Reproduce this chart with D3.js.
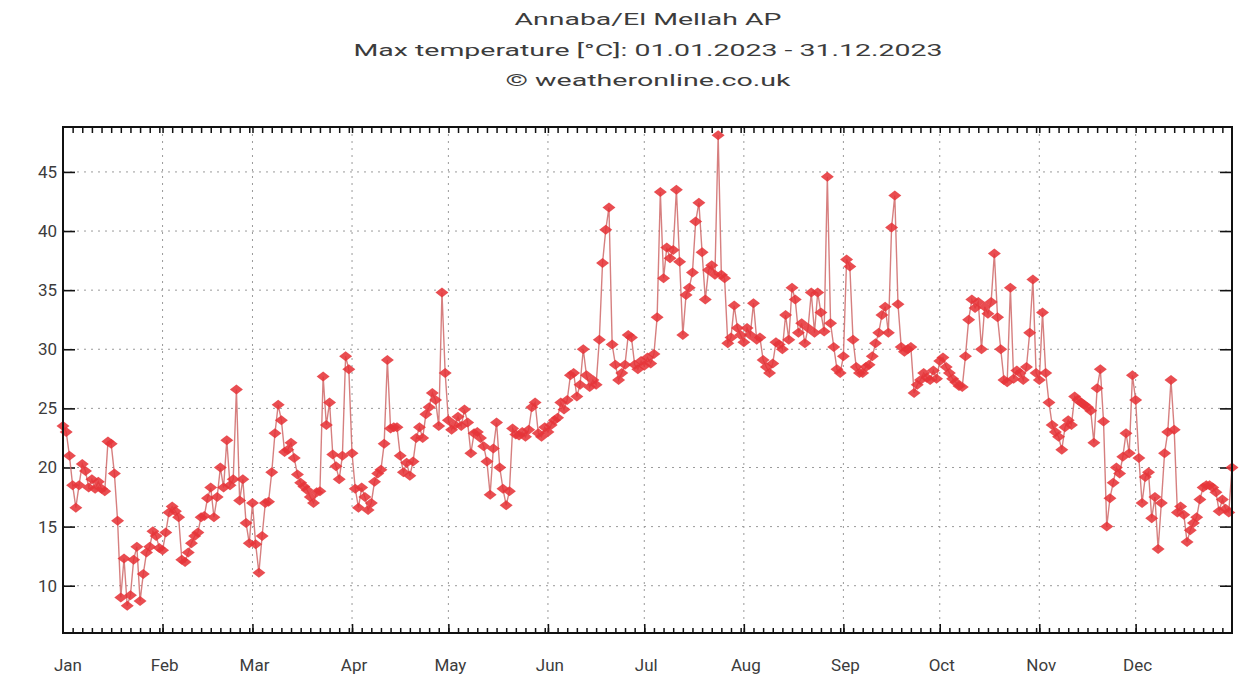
<!DOCTYPE html>
<html>
<head>
<meta charset="utf-8">
<script src="https://cdn.jsdelivr.net/npm/d3@7"></script>
<style>
  html, body { margin: 0; padding: 0; background: #fff; }
  svg { display: block; }
  text { font-family: Roboto, "DejaVu Sans", sans-serif; fill: #3c3c3c; }
</style>
</head>
<body>
<svg id="chart" width="1239" height="678"></svg>
<script>
// Daily maximum temperature (°C), Annaba/El Mellah AP, 2023 — one array per month
const jan = [23.5,23.0,21.0,18.5,16.6,18.5,20.3,19.7,18.3,19.0,18.2,18.8,18.2,18.0,22.2,22.0,19.5,15.5,9.0,12.3,8.3,9.2,12.2,13.3,8.7,11.0,12.8,13.3,14.6,14.2,13.2];
const feb = [13.0,14.5,16.2,16.7,16.3,15.8,12.2,12.0,12.8,13.6,14.2,14.5,15.8,15.9,17.4,18.3,15.8,17.5,20.0,18.3,22.3,18.5,19.0,26.6,17.2,19.0,15.3,13.6];
const mar = [17.0,13.5,11.1,14.2,17.0,17.1,19.6,22.9,25.3,24.0,21.3,21.5,22.1,20.8,19.4,18.7,18.4,18.1,17.5,17.0,17.9,18.0,27.7,23.6,25.5,21.1,20.1,19.0,21.0,29.4,28.3];
const apr = [21.2,18.2,16.6,18.3,17.5,16.4,17.0,18.8,19.5,19.8,22.0,29.1,23.3,23.4,23.4,21.0,19.6,20.4,19.3,20.5,22.5,23.4,22.5,24.5,25.1,26.3,25.7,23.5,34.8,28.0];
const may = [24.0,23.2,23.6,24.3,23.5,24.9,23.8,21.2,22.9,23.0,22.5,21.8,20.5,17.7,21.6,23.8,20.0,18.2,16.8,18.0,23.3,22.8,22.7,23.0,22.6,23.2,25.1,25.5,22.9,22.6,23.4];
const jun = [23.0,23.6,24.0,24.2,25.5,24.9,25.7,27.8,28.0,26.0,27.0,30.0,27.8,26.8,27.4,27.0,30.8,37.3,40.1,42.0,30.4,28.7,27.4,28.0,28.7,31.2,31.0,28.7,28.3,29.0];
const jul = [28.6,29.3,28.8,29.6,32.7,43.3,36.0,38.6,37.7,38.4,43.5,37.4,31.2,34.6,35.2,36.5,40.8,42.4,38.2,34.2,36.7,37.1,36.3,48.1,36.3,36.0,30.5,31.0,33.7,31.8,31.2];
const aug = [30.6,31.8,31.2,33.9,30.8,31.0,29.1,28.5,28.0,28.8,30.6,30.4,30.0,32.9,30.8,35.2,34.2,31.4,32.2,30.5,31.8,34.8,31.4,34.8,33.1,31.5,44.6,32.2,30.2,28.3,28.0];
const sep = [29.4,37.6,37.0,30.8,28.5,28.0,28.0,28.5,28.7,29.4,30.5,31.4,32.9,33.6,31.4,40.3,43.0,33.8,30.2,29.8,30.0,30.2,26.3,27.0,27.4,28.0,27.6,27.4,28.2,27.5];
const oct = [29.0,29.3,28.5,28.0,27.5,27.2,26.9,26.8,29.4,32.5,34.2,33.5,34.0,30.0,33.6,33.0,34.0,38.1,32.7,30.0,27.4,27.2,35.2,27.5,28.2,28.0,27.4,28.5,31.4,35.9,28.0];
const nov = [27.4,33.1,28.0,25.5,23.6,23.0,22.6,21.5,23.4,24.0,23.6,26.0,25.7,25.5,25.3,25.1,24.8,22.1,26.7,28.3,23.9,15.0,17.4,18.7,20.0,19.5,20.9,22.9,21.2,27.8];
const dec = [25.7,20.8,17.0,19.2,19.6,15.7,17.5,13.1,17.0,21.2,23.0,27.4,23.2,16.2,16.7,16.0,13.7,14.7,15.3,15.8,17.3,18.3,18.5,18.5,18.3,17.9,16.3,17.3,16.5,16.2,20.0];

const monthLabels = ["Jan","Feb","Mar","Apr","May","Jun","Jul","Aug","Sep","Oct","Nov","Dec"];
const yTicks = [10,15,20,25,30,35,40,45];
const titleLines = [
  "Annaba/El Mellah AP",
  "Max temperature [°C]: 01.01.2023 - 31.12.2023",
  "© weatheronline.co.uk"
];

const months = [jan,feb,mar,apr,may,jun,jul,aug,sep,oct,nov,dec];
const data = [];
months.forEach((vals, m) => {
  vals.forEach((v, i) => data.push({ date: new Date(2023, m, i + 1), value: v }));
});

const svg = d3.select("#chart");
const plot = { left: 63, right: 1232, top: 127, bottom: 633 };

const x = d3.scaleTime()
  .domain([new Date(2023, 0, 1), new Date(2023, 11, 31)])
  .range([plot.left, plot.right]);
const y = d3.scaleLinear()
  .domain([6, 48.8])
  .range([plot.bottom, plot.top]);

// Title block
const titleY = [25, 56, 86];
const titleW = [267, 589, 285];
svg.append("g").selectAll("text")
  .data(titleLines)
  .join("text")
  .attr("x", 648)
  .attr("y", (d, i) => titleY[i])
  .attr("text-anchor", "middle")
  .attr("font-size", 17)
  .attr("textLength", (d, i) => titleW[i])
  .attr("lengthAdjust", "spacingAndGlyphs")
  .text(d => d);

// Grid
const grid = svg.append("g").attr("stroke", "#9a9a9a").attr("stroke-width", 1)
  .attr("stroke-dasharray", "2,5");
const monthStarts = d3.range(1, 12).map(m => new Date(2023, m, 1));
grid.selectAll("line.v").data(monthStarts).join("line")
  .attr("class", "v")
  .attr("x1", d => x(d)).attr("x2", d => x(d))
  .attr("y1", plot.top).attr("y2", plot.bottom);
grid.selectAll("line.h").data(yTicks).join("line")
  .attr("class", "h")
  .attr("x1", plot.left).attr("x2", plot.right)
  .attr("y1", d => y(d)).attr("y2", d => y(d));

// Axes (ticks point inward, mirrored on opposite sides)
const tickLen = 12;
const yLeft = svg.append("g").attr("transform", `translate(${plot.left},0)`)
  .call(d3.axisRight(y).tickValues(yTicks).tickSize(tickLen).tickFormat(""));
const yRight = svg.append("g").attr("transform", `translate(${plot.right},0)`)
  .call(d3.axisLeft(y).tickValues(yTicks).tickSize(tickLen).tickFormat(""));
[yLeft, yRight].forEach(g => {
  g.select(".domain").remove();
  g.selectAll("line").attr("stroke", "#111").attr("stroke-width", 1.6);
});

// y tick labels
svg.append("g").selectAll("text")
  .data(yTicks)
  .join("text")
  .attr("x", 57)
  .attr("y", d => y(d) + 6)
  .attr("text-anchor", "end")
  .attr("font-size", 17)
  .text(d => d);

// x minor ticks on top and bottom borders
const minor = d3.timeDay.every(3).range(new Date(2023, 0, 2), new Date(2023, 11, 31));
const xb = svg.append("g").attr("transform", `translate(0,${plot.bottom})`)
  .call(d3.axisTop(x).tickValues(minor).tickSize(5).tickFormat(""));
const xt = svg.append("g").attr("transform", `translate(0,${plot.top})`)
  .call(d3.axisBottom(x).tickValues(minor).tickSize(6).tickFormat(""));
const xbMajor = svg.append("g").attr("transform", `translate(0,${plot.bottom})`)
  .call(d3.axisTop(x).tickValues(monthStarts).tickSize(9).tickFormat(""));
[xb, xt, xbMajor].forEach(g => {
  g.select(".domain").remove();
  g.selectAll("line").attr("stroke", "#111").attr("stroke-width", 1.5);
});

// month labels
svg.append("g").selectAll("text")
  .data(monthLabels)
  .join("text")
  .attr("x", (d, i) => x(new Date(2023, i, 1)) + (i === 0 ? 5 : 2))
  .attr("y", 671)
  .attr("text-anchor", "middle")
  .attr("font-size", 17)
  .text(d => d);

// Series line
const line = d3.line().x(d => x(d.date)).y(d => y(d.value));
svg.append("path")
  .datum(data)
  .attr("fill", "none")
  .attr("stroke", "#cf6868")
  .attr("stroke-width", 1.4)
  .attr("stroke-opacity", 0.85)
  .attr("d", line);

// Diamond markers
const diamond = "M0,-5L6.5,0L0,5L-6.5,0Z";
svg.append("g").selectAll("path")
  .data(data)
  .join("path")
  .attr("transform", d => `translate(${x(d.date)},${y(d.value)})`)
  .attr("d", diamond)
  .attr("fill", "#e63439")
  .attr("fill-opacity", 0.88);

// Frame
svg.append("rect")
  .attr("x", plot.left).attr("y", plot.top)
  .attr("width", plot.right - plot.left).attr("height", plot.bottom - plot.top)
  .attr("fill", "none").attr("stroke", "#111").attr("stroke-width", 2);
</script>
</body>
</html>
